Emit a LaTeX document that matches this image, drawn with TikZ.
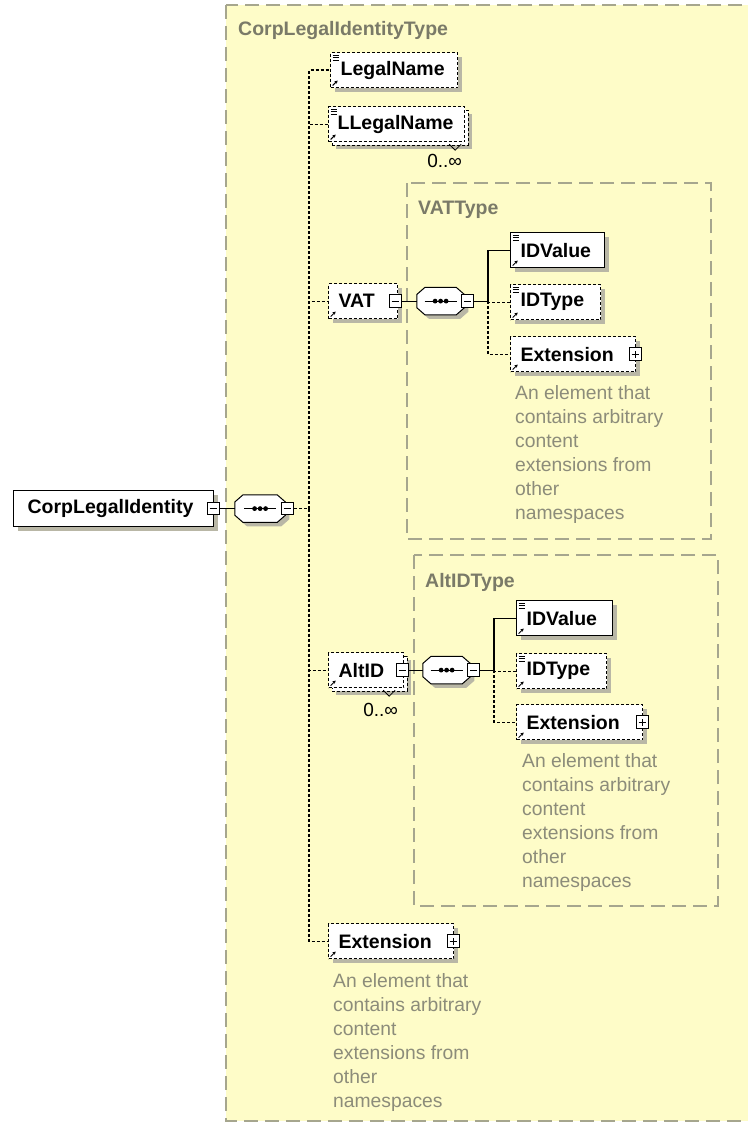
\documentclass[tikz,border=0pt]{standalone}
\usepackage{fontspec}
\setmainfont{Liberation Sans}
\usepackage{xcolor}
\definecolor{paper}{HTML}{FEFCC8}
\definecolor{typeline}{HTML}{A6A68E}
\definecolor{typetext}{HTML}{7A7A68}
\definecolor{notegrey}{HTML}{8C8C7A}
\definecolor{shadegrey}{HTML}{B9B7A6}
\usetikzlibrary{arrows.meta,positioning,shadows}
\hyphenpenalty=10000
\newcommand{\elemfont}{\fontsize{19.5}{23}\selectfont\bfseries}
\newcommand{\notefont}{\fontsize{19.3}{24}\selectfont}
\newcommand{\refarrow}{\draw[solid,line width=1pt,-{Stealth[length=3pt,width=3.5pt]}]
  ([xshift=2pt,yshift=2pt]path picture bounding box.south west) -- ++(5,-5);}
\newcommand{\textlines}{\foreach \k in {3pt,5.2pt,7.4pt}
  \draw[solid,line width=.7pt] ([xshift=2pt,yshift=-\k]path picture bounding box.north west) -- ++(6,0);}
\newcommand{\seqshape}[1]{%
  \draw[shadowed,fill=white,line width=1pt] ([xshift=8pt]#1.north west) -- ([xshift=-8pt]#1.north east)
    -- ([yshift=-7pt]#1.north east) -- ([yshift=7pt]#1.south east) -- ([xshift=-8pt]#1.south east)
    -- ([xshift=8pt]#1.south west) -- ([yshift=7pt]#1.south west) -- ([yshift=-7pt]#1.north west) -- cycle;
  \draw[line width=1pt] ([xshift=-16pt]#1.center) -- ([xshift=16pt]#1.center);
  \foreach \dx in {-5.5pt,0pt,5.5pt} \fill ([xshift=\dx]#1.center) circle (2.4pt);}

\begin{document}
\begin{tikzpicture}[
  x=1pt,y=-1pt,
  typebox/.style={draw=typeline,fill=paper,line width=1.2pt,dash pattern=on 14pt off 7pt},
  typename/.style={anchor=base west,inner sep=0pt,text=typetext,font=\elemfont},
  descr/.style={anchor=base west,inner sep=0pt,text=notegrey,font=\notefont,align=left},
  occurs/.style={anchor=base east,inner sep=0pt,font=\fontsize{19}{23}\selectfont},
  shadowed/.style={drop shadow={shadow xshift=4pt,shadow yshift=-4pt,fill=shadegrey,opacity=1}},
  elembase/.style={anchor=north west,fill=white,line width=1.2pt,inner xsep=10pt,inner ysep=0pt,minimum height=35pt,align=left,font=\elemfont},
  elem/.style={elembase,draw,shadowed},
  optelem/.style={elembase,draw,dash pattern=on 3pt off 2pt,shadowed},
  multielem/.style={elembase,draw,dash pattern=on 3pt off 2pt,
    general shadow={shadow xshift=7pt,shadow yshift=-7pt,fill=shadegrey},
    general shadow={shadow xshift=3.5pt,shadow yshift=-3.5pt,fill=white,draw}},
  refmark/.style={path picture={\refarrow}},
  bothmarks/.style={path picture={\refarrow\textlines}},
  togglebox/.style={draw,fill=white,line width=.9pt,minimum size=12.5pt,inner sep=0pt},
  minbox/.style={togglebox,path picture={\draw[line width=.9pt] ([xshift=-3.5pt]path picture bounding box.center) -- ++(7,0);}},
  plusbox/.style={togglebox,path picture={\draw[line width=.9pt] ([xshift=-3.5pt]path picture bounding box.center) -- ++(7,0) ([yshift=-3.5pt]path picture bounding box.center) -- ++(0,-7);}},
  seqbox/.style={minimum width=50pt,minimum height=27pt,inner sep=0pt,
    append after command={\pgfextra{\seqshape{\tikzlastnode}}}},
  solidlink/.style={line width=1.1pt},
  dashlink/.style={line width=1.2pt,dash pattern=on 3pt off 2pt}
]
\fill[white] (0,0) rectangle (747,1124);
\useasboundingbox (0,0) rectangle (747,1124);
\draw[typebox] (226,5) rectangle (775,1121);
\node[typename] (corptype) at (238,36) {CorpLegalIdentityType};

\node[elem,inner xsep=14pt,text width=172pt,minimum height=36pt] (cli) at (13,490) {CorpLegalIdentity};
\node[minbox] (climin) at ([xshift=-1pt]cli.east) {};
\node[seqbox,right=15pt of climin] (seq) {};
\node[minbox] (seqmin) at ([xshift=2pt]seq.east) {};
\coordinate[right=15pt of seqmin] (trunk);

\node[optelem,bothmarks,text width=107pt] (legalname) at (330,52) {LegalName};
\node[multielem,bothmarks,inner xsep=9pt,text width=118pt] (llegal) at (328,106) {LLegalName};
\node[occurs] (llegalocc) at ([xshift=-3pt,yshift=-25pt]llegal.south east) {0..∞};
\draw[line width=.8pt] ([xshift=-16pt,yshift=-2pt]llegal.south east) -- ++(6,6) -- ++(6,-6);

\draw[typebox] (407,183) rectangle (711,539);
\node[typename] (vattype) at (418,214) {VATType};
\node[optelem,refmark,text width=49pt] (vat) at (328,283) {VAT};
\node[minbox] (vatmin) at ([xshift=-3pt]vat.east) {};
\node[seqbox,minimum width=47pt,right=15pt of vatmin] (vatseq) {};
\node[minbox] (vatseqmin) at ([xshift=3pt]vatseq.east) {};
\coordinate[right=14pt of vatseqmin] (vatfork);
\node[elem,bothmarks,text width=74pt] (vatidv) at (510,232) {IDValue};
\node[optelem,bothmarks,text width=70pt] (vatidt) at (510,284) {IDType};
\node[optelem,refmark,text width=105pt] (vatext) at (510,336) {Extension};
\node[plusbox] (vatextplus) at ([xshift=-1pt]vatext.east) {};
\node[descr] (vatnote) at (515,519) {An element that\\contains arbitrary\\content\\extensions from\\other\\namespaces};

\draw[typebox] (414,555) rectangle (718,906);
\node[typename] (alttype) at (425,587) {AltIDType};
\node[multielem,refmark,text width=55pt] (altid) at (328,652) {AltID};
\node[minbox] (altidmin) at ([xshift=-2pt]altid.east) {};
\node[occurs] (altidocc) at ([xshift=-6pt,yshift=-28pt]altid.south east) {0..∞};
\draw[line width=.8pt] ([xshift=-21pt,yshift=-2pt]altid.south east) -- ++(6,6) -- ++(6,-6);
\node[seqbox,minimum width=47pt,right=14pt of altidmin] (altseq) {};
\node[minbox] (altseqmin) at ([xshift=3pt]altseq.east) {};
\coordinate[right=14pt of altseqmin] (altfork);
\node[elem,bothmarks,text width=76pt] (altidv) at (516,600) {IDValue};
\node[optelem,bothmarks,text width=70pt] (altidt) at (516,653) {IDType};
\node[optelem,refmark,text width=106pt] (altext) at (516,704) {Extension};
\node[plusbox] (altextplus) at ([xshift=-1pt]altext.east) {};
\node[descr] (altnote) at (522,887) {An element that\\contains arbitrary\\content\\extensions from\\other\\namespaces};

\node[optelem,refmark,text width=105pt] (ext) at (328,923) {Extension};
\node[plusbox] (extplus) at ([xshift=-1pt]ext.east) {};
\node[descr] (extnote) at (333,1107) {An element that\\contains arbitrary\\content\\extensions from\\other\\namespaces};

\draw[solidlink] (climin) -- (seq);
\draw[dashlink] (seqmin) -- (trunk);
\foreach \c in {legalname,llegal,vat,altid,ext}
  \draw[dashlink] (trunk) |- (\c.west);
\draw[solidlink] (vatmin) -- (vatseq);
\draw[solidlink] (vatseqmin) -- (vatfork) |- (vatidv.west);
\draw[dashlink] (vatfork) |- (vatidt.west);
\draw[dashlink] (vatfork) |- (vatext.west);
\draw[solidlink] (altidmin) -- (altseq);
\draw[solidlink] (altseqmin) -- (altfork) |- (altidv.west);
\draw[dashlink] (altfork) |- (altidt.west);
\draw[dashlink] (altfork) |- (altext.west);
\end{tikzpicture}
\end{document}
